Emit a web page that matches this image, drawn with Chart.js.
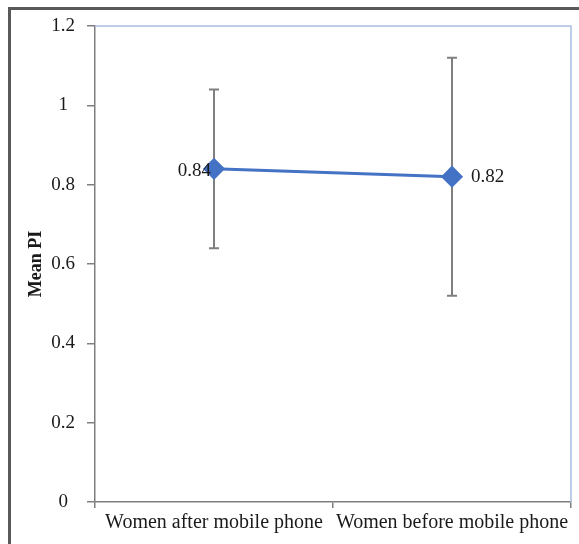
<!DOCTYPE html>
<html><head><meta charset="utf-8">
<script src="https://cdn.jsdelivr.net/npm/chart.js@4"></script>
<style>
html,body{margin:0;padding:0;background:#fff;overflow:hidden}
#wrap{position:relative;width:579px;height:544px}
#frame{position:absolute;left:8px;top:7px;width:600px;height:600px;border:3px solid #595959;box-sizing:border-box}
canvas{position:absolute;left:0;top:0}
</style></head>
<body><div id="wrap"><div id="frame"></div><canvas id="c" width="579" height="544"></canvas></div>
<script>
const categories = ["Women after mobile phone", "Women before mobile phone"];
const meanPI = [0.84, 0.82];
const errorPI = [0.20, 0.30];
const dataLabels = ["0.84", "0.82"];
const yTicks = [0, 0.2, 0.4, 0.6, 0.8, 1, 1.2];

const serif = "'Liberation Serif', 'Times New Roman', serif";

const extras = {
  id: 'extras',
  afterDatasetsDraw(chart) {
    const ctx = chart.ctx, a = chart.chartArea;
    ctx.save();
    ctx.strokeStyle = '#a9bde3'; ctx.lineWidth = 1.5;
    ctx.beginPath(); ctx.moveTo(a.left, a.top); ctx.lineTo(a.right, a.top); ctx.lineTo(a.right, a.bottom); ctx.stroke();
    ctx.restore();
  },
  beforeDatasetsDraw(chart) {
    const ctx = chart.ctx, x = chart.scales.x, y = chart.scales.y;
    ctx.save();
    ctx.strokeStyle = '#7f7f7f'; ctx.lineWidth = 2;
    meanPI.forEach((v, i) => {
      const px = x.getPixelForValue(i);
      const t = y.getPixelForValue(v + errorPI[i]), b = y.getPixelForValue(v - errorPI[i]);
      ctx.beginPath();
      ctx.moveTo(px, t); ctx.lineTo(px, b);
      ctx.moveTo(px - 5, t); ctx.lineTo(px + 5, t);
      ctx.moveTo(px - 5, b); ctx.lineTo(px + 5, b);
      ctx.stroke();
    });
    ctx.restore();
  },
  afterDraw(chart) {
    const ctx = chart.ctx, x = chart.scales.x, y = chart.scales.y;
    ctx.save();
    ctx.font = '19px ' + serif; ctx.fillStyle = '#1a1a1a'; ctx.textBaseline = 'middle';
    meanPI.forEach((v, i) => {
      const px = x.getPixelForValue(i), py = y.getPixelForValue(v);
      if (i === 0) { ctx.textAlign = 'right'; ctx.fillText(dataLabels[i], px - 3, py + 2); }
      else { ctx.textAlign = 'left'; ctx.fillText(dataLabels[i], px + 19, py); }
    });
    ctx.restore();
  }
};

new Chart(document.getElementById('c'), {
  type: 'line',
  data: {
    labels: categories,
    datasets: [{
      data: meanPI,
      borderColor: '#4472c4',
      backgroundColor: '#4472c4',
      borderWidth: 3,
      pointStyle: 'rectRot',
      pointRadius: 9,
      pointHoverRadius: 9,
      tension: 0
    }]
  },
  options: {
    responsive: false,
    animation: false,
    events: [],
    layout: { autoPadding: false, padding: { left: 0, top: 26, right: 8, bottom: 0 } },
    plugins: { legend: { display: false }, tooltip: { enabled: false } },
    scales: {
      x: {
        type: 'category',
        offset: true,
        grid: { offset: true, drawOnChartArea: false, color: '#7f7f7f', tickLength: 6, lineWidth: 1.5 },
        border: { color: '#7f7f7f', width: 1.5 },
        ticks: { color: '#1a1a1a', font: { family: serif, size: 20 }, padding: 3, maxRotation: 0, autoSkip: false },
        afterFit(s) { s.height = 42; s.paddingLeft = 0; s.paddingRight = 0; }
      },
      y: {
        min: 0, max: 1.2,
        afterBuildTicks(s) { s.ticks = yTicks.map(v => ({ value: v })); },
        grid: { drawOnChartArea: false, color: '#7f7f7f', tickLength: 8, lineWidth: 1.5 },
        border: { color: '#7f7f7f', width: 1.5 },
        ticks: { color: '#1a1a1a', font: { family: serif, size: 19 }, padding: 12, crossAlign: 'center',
          callback: (v) => String(v) },
        title: { display: true, text: 'Mean PI', color: '#1a1a1a', font: { family: serif, size: 18, weight: 'bold' }, padding: { top: 26, bottom: 0 } },
        afterFit(s) { s.width = 95; }
      }
    }
  },
  plugins: [extras]
});
</script></body></html>
